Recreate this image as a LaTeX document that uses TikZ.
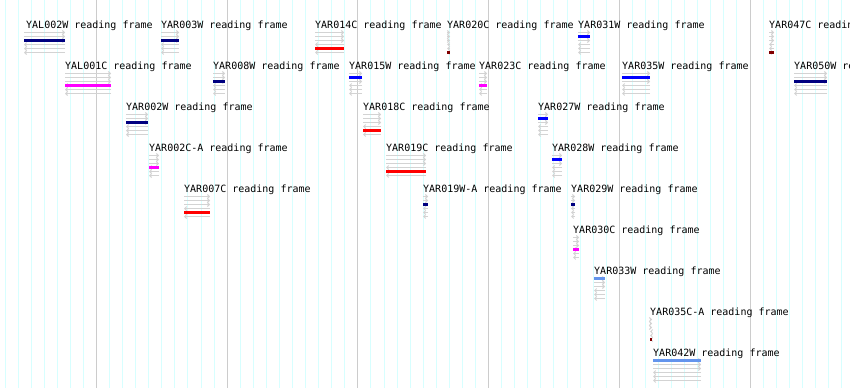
\documentclass[tikz,border=0pt]{standalone}
\usepackage{fontspec}
\setmainfont{DejaVu Sans Mono}
\usetikzlibrary{arrows.meta}
\definecolor{navyc}{RGB}{0,0,128}
\definecolor{bluec}{RGB}{0,0,255}
\definecolor{cornc}{RGB}{100,149,237}
\definecolor{magc}{RGB}{255,0,255}
\definecolor{redc}{RGB}{255,0,0}
\definecolor{dredc}{RGB}{128,0,0}
\definecolor{minorc}{RGB}{215,255,255}
\definecolor{majorc}{RGB}{204,204,204}
\definecolor{framec}{RGB}{211,211,211}
\tikzset{
 lbl/.style={anchor=base west,inner sep=0pt,font=\fontsize{10}{12}\selectfont,text=black},
 frameline/.style={draw=framec,line width=1pt,-{Straight Barb[length=2pt,width=4pt]}},
 orfbar/.style={line width=3pt},
 minorgrid/.style={draw=minorc,line width=1pt},
 majorgrid/.style={draw=majorc,line width=1pt},
}
\newcommand\orfglyph[7]{%
 \pgfmathsetmacro\orfby{28+41*#3}%
 \node[lbl] (#6) at (#7,\orfby) {#6 reading frame};%
 \foreach \k in {0,1,2}{\pgfmathsetmacro\orfyy{\orfby+4.5+4*\k}\draw[frameline] (#1,\orfyy) -- (#2,\orfyy);}%
 \foreach \k in {3,4,5}{\pgfmathsetmacro\orfyy{\orfby+4.5+4*\k}\draw[frameline] (#2,\orfyy) -- (#1,\orfyy);}%
 \pgfmathsetmacro\orfyb{\orfby+4.5+4*#4}%
 \draw[orfbar,draw=#5] (#1,\orfyb) -- (#2,\orfyb);%
}
\begin{document}
\begin{tikzpicture}[x=1pt,y=-1pt]
\useasboundingbox (0,0) rectangle (850,388);
\fill[white] (0,0) rectangle (850,388);
\foreach \i in {0,...,64}{\pgfmathsetmacro\gx{5+13.07*\i}\draw[minorgrid] (\gx,0) -- (\gx,388);}
\foreach \i in {7,17,...,57}{\pgfmathsetmacro\gx{5+13.07*\i}\draw[majorgrid] (\gx,0) -- (\gx,388);}
% row 0
\orfglyph{24}{65}{0}{2}{navyc}{YAL002W}{26}
\orfglyph{161}{179}{0}{2}{navyc}{YAR003W}{161}
\orfglyph{315}{344}{0}{4}{redc}{YAR014C}{315}
\orfglyph{447}{450}{0}{5}{dredc}{YAR020C}{447}
\orfglyph{578}{590}{0}{1}{bluec}{YAR031W}{578}
\orfglyph{769}{774}{0}{5}{dredc}{YAR047C}{769}
% row 1
\orfglyph{65}{111}{1}{3}{magc}{YAL001C}{65}
\orfglyph{213}{225}{1}{2}{navyc}{YAR008W}{213}
\orfglyph{349}{362}{1}{1}{bluec}{YAR015W}{349}
\orfglyph{479}{487}{1}{3}{magc}{YAR023C}{479}
\orfglyph{622}{650}{1}{1}{bluec}{YAR035W}{622}
\orfglyph{794}{827}{1}{2}{navyc}{YAR050W}{794}
% row 2
\orfglyph{126}{148}{2}{2}{navyc}{YAR002W}{126}
\orfglyph{363}{381}{2}{4}{redc}{YAR018C}{363}
\orfglyph{538}{548}{2}{1}{bluec}{YAR027W}{538}
% row 3
\orfglyph{149}{159}{3}{3}{magc}{YAR002C-A}{149}
\orfglyph{386}{426}{3}{4}{redc}{YAR019C}{386}
\orfglyph{552}{562}{3}{1}{bluec}{YAR028W}{552}
% row 4
\orfglyph{184}{210}{4}{4}{redc}{YAR007C}{184}
\orfglyph{423}{428}{4}{2}{navyc}{YAR019W-A}{423}
\orfglyph{571}{575}{4}{2}{navyc}{YAR029W}{571}
% rows 5-8
\orfglyph{573}{579}{5}{3}{magc}{YAR030C}{573}
\orfglyph{594}{605}{6}{0}{cornc}{YAR033W}{594}
\orfglyph{650}{652}{7}{5}{dredc}{YAR035C-A}{650}
\orfglyph{653}{701}{8}{0}{cornc}{YAR042W}{653}
\end{tikzpicture}
\end{document}
